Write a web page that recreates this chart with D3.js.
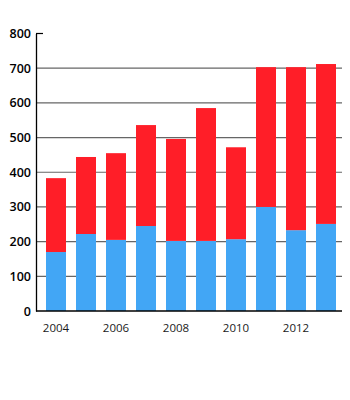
<!DOCTYPE html>
<html><head><meta charset="utf-8">
<script src="https://cdn.jsdelivr.net/npm/d3@7"></script>
<style>
body{margin:0;background:#fff;}
svg{display:block;}
</style></head>
<body><svg id="c" width="350" height="400"></svg>
<script>
const years = [2004,2005,2006,2007,2008,2009,2010,2011,2012,2013];
const blueValues = [170,222,205,245,202,202,207,300,233,251];
const redValues = [213,222,250,291,294,383,265,403,470,461];
const yTicks = [0,100,200,300,400,500,600,700,800];
const xTickLabels = [2004,2006,2008,2010,2012];

const svg = d3.select("#c");
const x = d3.scaleBand().domain(years).range([41,341]).paddingInner(1/3).paddingOuter(1/6);
const y = d3.scaleLinear().domain([0,800]).range([311,33.5]);

// grid lines
svg.append("g").selectAll("line").data(yTicks.filter(d=>d>0 && d<800)).join("line")
  .attr("x1",36).attr("x2",342).attr("y1",d=>y(d)).attr("y2",d=>y(d))
  .attr("stroke","#666").attr("stroke-width",1.2);

const data = years.map((yr,i)=>({year:yr, blue:blueValues[i], red:redValues[i]}));
const stack = d3.stack().keys(["blue","red"])(data);
const colors = {blue:"#42a6f5", red:"#ff1e28"};
svg.append("g").selectAll("g").data(stack).join("g")
  .attr("fill",d=>colors[d.key])
  .selectAll("rect").data(d=>d).join("rect")
  .attr("x",d=>x(d.data.year)).attr("width",x.bandwidth())
  .attr("y",d=>y(d[1])).attr("height",d=>y(d[0])-y(d[1]));

// y axis
const yAxis = d3.axisLeft(y).tickValues(yTicks).tickSize(0).tickPadding(5);
const gy = svg.append("g").attr("transform","translate(36,0)").call(yAxis);
gy.select(".domain").attr("stroke","#000").attr("stroke-width",1.3);
gy.selectAll("text").attr("font-family","'Open Sans', sans-serif").attr("font-weight","600").attr("font-size","12.5px").attr("fill","#000");
// top tick at 800
svg.append("line").attr("x1",36).attr("x2",43).attr("y1",y(800)).attr("y2",y(800)).attr("stroke","#000").attr("stroke-width",1.2);

// x axis
const xAxis = d3.axisBottom(x).tickValues(xTickLabels).tickSize(0).tickPadding(13);
const gx = svg.append("g").attr("transform","translate(0,311)").call(xAxis);
gx.select(".domain").remove();
gx.selectAll("text").attr("font-family","'Open Sans', sans-serif").attr("font-size","11.5px").attr("fill","#1a1a1a");
svg.append("line").attr("x1",36).attr("x2",342).attr("y1",311).attr("y2",311).attr("stroke","#000").attr("stroke-width",1.5);
</script></body></html>
